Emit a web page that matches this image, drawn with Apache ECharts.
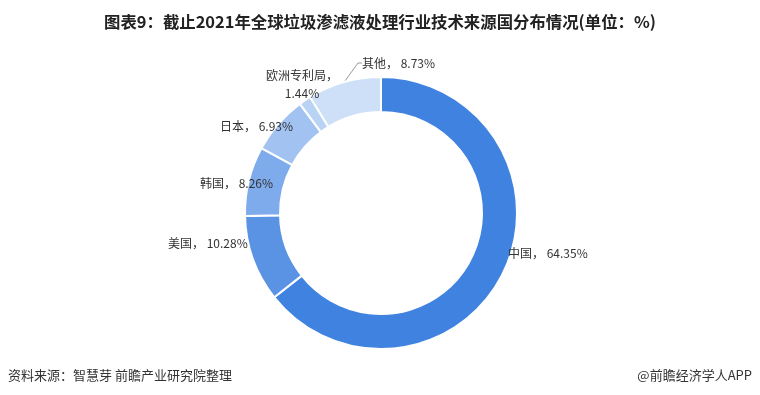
<!DOCTYPE html>
<html><head><meta charset="utf-8">
<script src="https://cdn.jsdelivr.net/npm/echarts@6/dist/echarts.min.js"></script>
<style>html,body{margin:0;padding:0;background:#fff}#c{width:760px;height:395px}</style>
</head><body><div id="c"></div>
<script>
const categories = ['中国', '美国', '韩国', '日本', '欧洲专利局', '其他'];
const values = [64.35, 10.28, 8.26, 6.93, 1.44, 8.73];
const colors = ['#3f82e0', '#5a93e4', '#7eabeb', '#a2c3f1', '#b9d3f5', '#cde0f8'];
const labelPos = [[508, 253, 'left'], [168, 243, 'left'], [200, 183, 'left'], [220, 126, 'left'], [302, 84, 'center'], [362, 63, 'left']];
const chart = echarts.init(document.getElementById('c'));
const font = '"Noto Sans CJK SC", "Noto Sans", sans-serif';
chart.setOption({
  animation: false,
  title: {
    text: '图表9：截止2021年全球垃圾渗滤液处理行业技术来源国分布情况(单位：%)',
    left: 'center', top: 9,
    textStyle: { fontSize: 16.4, fontWeight: 'bold', color: '#222', fontFamily: font }
  },
  graphic: [
    { type: 'text', left: 8, top: 369, style: { text: '资料来源：智慧芽 前瞻产业研究院整理', fontSize: 13, fill: '#333', fontFamily: font } },
    { type: 'text', right: 8, top: 369, style: { text: '@前瞻经济学人APP', fontSize: 13, fill: '#333', fontFamily: font } }
  ],
  series: [{
    type: 'pie',
    center: [381, 213],
    radius: [101, 136],
    startAngle: 90,
    clockwise: true,
    itemStyle: { borderColor: '#fff', borderWidth: 2 },
    label: {
      show: true, position: 'outside', fontSize: 12, color: '#333', fontFamily: font,
      formatter: p => p.name === '欧洲专利局' ? p.name + '，\n' + p.value.toFixed(2) + '%' : p.name + '， ' + p.value.toFixed(2) + '%',
      lineHeight: 18
    },
    labelLine: { show: false },
    labelLayout: p => {
      const lp = labelPos[p.dataIndex];
      return { x: lp[0], y: lp[1], align: lp[2], verticalAlign: 'middle' };
    },
    data: categories.map((n, i) => ({
      name: n, value: values[i],
      itemStyle: { color: colors[i] },
      labelLine: n === '其他' ? { show: true, length: 10, length2: 4, lineStyle: { color: '#999', width: 1 } } : { show: false }
    }))
  }]
});
</script></body></html>
